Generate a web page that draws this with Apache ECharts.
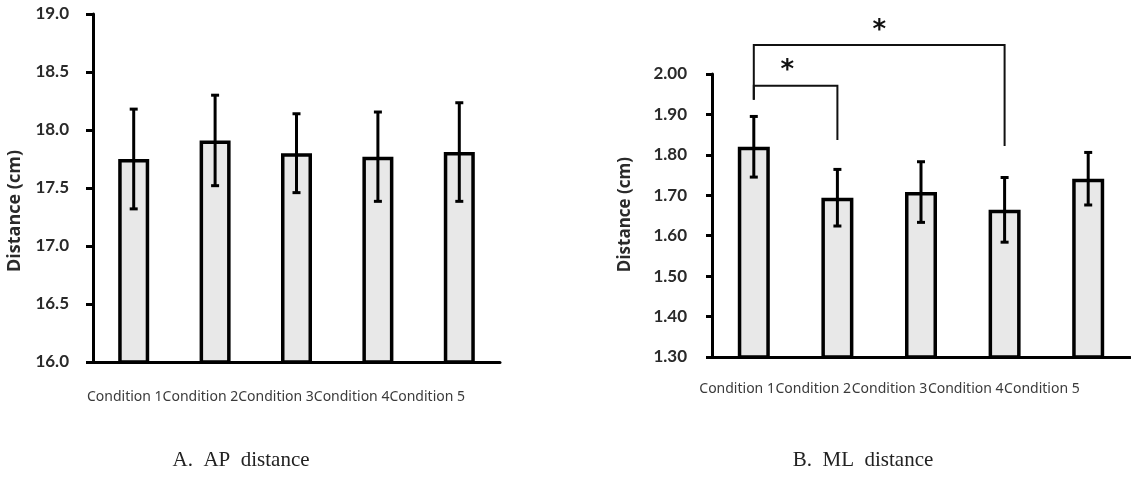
<!DOCTYPE html>
<html>
<head>
<meta charset="utf-8">
<script src="https://cdn.jsdelivr.net/npm/echarts@6/dist/echarts.min.js"></script>
<style>
  html, body { margin: 0; padding: 0; background: #fff; }
  #main { width: 1131px; height: 490px; }
</style>
</head>
<body>
<div id="main"></div>
<script>
// conditions on the x axis (both panels)
var conditions = ["Condition 1", "Condition 2", "Condition 3", "Condition 4", "Condition 5"]

// A. AP distance (cm): mean and SD
var apMean = [17.75, 17.91, 17.80, 17.77, 17.81]
var apSD = [0.43, 0.39, 0.34, 0.385, 0.425]

// B. ML distance (cm): mean and SD
var mlMean = [1.82, 1.694, 1.708, 1.664, 1.741]
var mlSD = [0.075, 0.07, 0.075, 0.08, 0.065]

// significance brackets on panel B
var bracketFrom = [0, 0]
var bracketTo = [1, 3]
var bracketTop = [1.971, 2.072]
var bracketLeftEnd = [1.936, 1.936]
var bracketRightEnd = [1.837, 1.822]
var starX = [0.4, 1.5]
var starY = [2.023, 2.122]

var tickFont = { color: "#2a2a2a", fontSize: 17, fontWeight: "bold", fontFamily: "Lato" }
var axisBlack = { color: "#000", width: 3 }

function errorData(mean, sd) {
  return mean.map(function (m, i) { return [i, m - sd[i], m + sd[i]] })
}

// category axis rounds to whole indexes, so blend between neighbours
function coordAt(api, x, y) {
  var i0 = Math.floor(x), i1 = Math.ceil(x), t = x - i0
  var p0 = api.coord([i0, y]), p1 = api.coord([i1, y])
  return [p0[0] + (p1[0] - p0[0]) * t, p0[1]]
}

function renderError(params, api) {
  var x = api.value(0)
  var lo = api.coord([x, api.value(1)])
  var hi = api.coord([x, api.value(2)])
  var cap = 4
  var style = { stroke: "#000", lineWidth: 3 }
  return {
    type: "group",
    children: [
      { type: "line", shape: { x1: lo[0], y1: lo[1], x2: hi[0], y2: hi[1] }, style: style },
      { type: "line", shape: { x1: hi[0] - cap, y1: hi[1], x2: hi[0] + cap, y2: hi[1] }, style: style },
      { type: "line", shape: { x1: lo[0] - cap, y1: lo[1], x2: lo[0] + cap, y2: lo[1] }, style: style }
    ]
  }
}

function renderBracket(params, api) {
  var i = params.dataIndex
  var a = api.coord([bracketFrom[i], bracketLeftEnd[i]])
  var b = api.coord([bracketFrom[i], bracketTop[i]])
  var c = api.coord([bracketTo[i], bracketTop[i]])
  var d = api.coord([bracketTo[i], bracketRightEnd[i]])
  var s = coordAt(api, starX[i], starY[i])
  return {
    type: "group",
    children: [
      {
        type: "polyline",
        shape: { points: [a, b, c, d] },
        style: { stroke: "#111", lineWidth: 2, fill: null }
      },
      {
        type: "text",
        x: s[0], y: s[1] + 7,
        style: {
          text: "*", fill: "#111", fontSize: 26, fontWeight: "bold", fontFamily: "DejaVu Sans",
          align: "center", verticalAlign: "middle"
        }
      }
    ]
  }
}

var myChart = echarts.init(document.getElementById("main"))
var option = {
  animation: false,
  backgroundColor: "#fff",
  grid: [
    { left: 93, top: 14, width: 407, height: 348 },
    { left: 712, top: 74, width: 418, height: 283 },
    { left: 87, top: 388, width: 378, height: 1 },
    { left: 699, top: 380, width: 381, height: 1 }
  ],
  xAxis: [
    {
      gridIndex: 0, type: "category", data: conditions,
      axisLine: { lineStyle: axisBlack }, axisTick: { show: false }, axisLabel: { show: false }
    },
    {
      gridIndex: 1, type: "category", data: conditions,
      axisLine: { lineStyle: axisBlack }, axisTick: { show: false }, axisLabel: { show: false }
    },
    {
      gridIndex: 2, type: "category", data: conditions,
      axisLine: { show: false }, axisTick: { show: false },
      axisLabel: { interval: 0, margin: 1, color: "#3a3a3a", fontSize: 14, fontFamily: "Noto Sans" }
    },
    {
      gridIndex: 3, type: "category", data: conditions,
      axisLine: { show: false }, axisTick: { show: false },
      axisLabel: { interval: 0, margin: 1, color: "#3a3a3a", fontSize: 14, fontFamily: "Noto Sans" }
    }
  ],
  yAxis: [
    {
      gridIndex: 0, type: "value", min: 16, max: 19, interval: 0.5,
      axisLine: { show: true, lineStyle: axisBlack },
      axisTick: { show: true, length: 7, lineStyle: axisBlack },
      splitLine: { show: false },
      axisLabel: Object.assign({ margin: 24, formatter: function (v) { return v.toFixed(1) } }, tickFont)
    },
    {
      gridIndex: 1, type: "value", min: 1.3, max: 2.0, interval: 0.1,
      axisLine: { show: true, lineStyle: axisBlack },
      axisTick: { show: true, length: 6, lineStyle: axisBlack },
      splitLine: { show: false },
      axisLabel: Object.assign({ margin: 25, formatter: function (v) { return v.toFixed(2) } }, tickFont)
    },
    { gridIndex: 2, show: false },
    { gridIndex: 3, show: false }
  ],
  series: [
    {
      name: "AP distance", type: "bar", xAxisIndex: 0, yAxisIndex: 0,
      data: apMean, barWidth: 31,
      itemStyle: { color: "#e8e8e8", borderColor: "#000", borderWidth: 3.5 }
    },
    {
      name: "AP SD", type: "custom", xAxisIndex: 0, yAxisIndex: 0,
      data: errorData(apMean, apSD), renderItem: renderError, z: 5
    },
    {
      name: "ML distance", type: "bar", xAxisIndex: 1, yAxisIndex: 1,
      data: mlMean, barWidth: 32,
      itemStyle: { color: "#e8e8e8", borderColor: "#000", borderWidth: 3.5 }
    },
    {
      name: "ML SD", type: "custom", xAxisIndex: 1, yAxisIndex: 1,
      data: errorData(mlMean, mlSD), renderItem: renderError, z: 5
    },
    {
      name: "significance", type: "custom", xAxisIndex: 1, yAxisIndex: 1,
      data: bracketFrom.map(function (f, i) { return [f, bracketTop[i]] }),
      renderItem: renderBracket, clip: false, z: 6
    }
  ],
  graphic: [
    {
      type: "text", left: 6, top: 150, rotation: Math.PI / 2,
      style: { text: "Distance (cm)", fill: "#2a2a2a", fontSize: 18, fontWeight: "bold", fontFamily: "Open Sans" }
    },
    {
      type: "text", left: 617, top: 157, rotation: Math.PI / 2,
      style: { text: "Distance (cm)", fill: "#2a2a2a", fontSize: 17, fontWeight: "bold", fontFamily: "Open Sans" }
    },
    {
      type: "text", x: 241, y: 460,
      style: { text: "A.  AP  distance", fill: "#222", fontSize: 21, fontFamily: "Liberation Serif", align: "center", verticalAlign: "middle" }
    },
    {
      type: "text", x: 863, y: 460,
      style: { text: "B.  ML  distance", fill: "#222", fontSize: 21, fontFamily: "Liberation Serif", align: "center", verticalAlign: "middle" }
    }
  ]
}
myChart.setOption(option)
</script>
</body>
</html>
